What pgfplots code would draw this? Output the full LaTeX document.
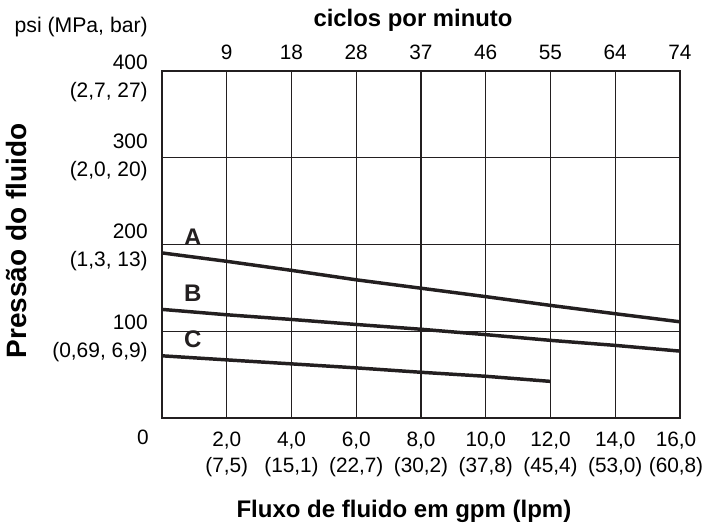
\documentclass[border=0pt]{standalone}
\usepackage{fontspec}
\setmainfont{Liberation Sans}
\usepackage{pgfplots}
\pgfplotsset{compat=1.18}
\definecolor{ink}{HTML}{231F20}
\newcommand\ylab[3]{\raisebox{#1}{\begin{tabular}[c]{@{}r@{}}#2\\#3\end{tabular}}}
\newcommand\lastxlab{16,0\\(60,8)}
\begin{document}
\begin{tikzpicture}
\useasboundingbox (0,0) rectangle (528pt,391.5pt);
\begin{axis}[
  at={(121.5pt,78pt)}, anchor=south west,
  scale only axis, width=388.5pt, height=260.25pt,
  xmin=0, xmax=16, ymin=0, ymax=400,
  clip=false,
  xtick={2,4,...,14},
  xticklabels={{2,0\\(7,5)},{4,0\\(15,1)},{6,0\\(22,7)},{8,0\\(30,2)},{10,0\\(37,8)},{12,0\\(45,4)},{14,0\\(53,0)}},
  extra x ticks={16},
  extra x tick labels={\lastxlab},
  extra x tick style={xticklabel style={xshift=-3pt}},
  ytick={100,200,300,400},
  yticklabels={{\ylab{-5pt}{100}{(0,69, 6,9)}},{\ylab{-1.6pt}{200}{(1,3, 13)}},{\ylab{1.3pt}{300}{(2,0, 20)}},{\ylab{-5.1pt}{400}{(2,7, 27)}}},
  grid=major,
  major grid style={draw=ink, line width=1pt},
  major tick length=0pt,
  axis line style={draw=ink, line width=1pt},
  /pgf/number format/assume math mode=true,
  xticklabel style={font=\fontsize{15.6}{19.5}\selectfont, align=center, anchor=north, inner sep=0pt, yshift=-10.5pt},
  yticklabel style={font=\fontsize{15.7}{21}\selectfont, anchor=base east, inner sep=0pt, xshift=-10.5pt, yshift=-3.9pt},
]
\addplot[draw=ink, line width=2.6pt] coordinates {(0,190.3)(2,180.6)(4,170.2)(6,159.3)(8,149.6)(10,139.9)(12,129.8)(14,120.2)(16,110.9)};
\addplot[draw=ink, line width=2.6pt] coordinates {(0,125.2)(2,119)(4,113.6)(6,107.8)(8,102.3)(10,96.1)(12,89.5)(14,83.7)(16,77.1)};
\addplot[draw=ink, line width=2.6pt] coordinates {(0,71.7)(2,67)(4,62.4)(6,57.8)(8,52.7)(10,48.1)(12,42.2)};
\node[font=\bfseries\fontsize{18}{20}\selectfont, text=ink] at (axis cs:0.95,208) {A};
\node[font=\bfseries\fontsize{18}{20}\selectfont, text=ink] at (axis cs:0.95,144) {B};
\node[font=\bfseries\fontsize{18}{20}\selectfont, text=ink] at (axis cs:0.95,90.4) {C};
\node[anchor=base east, inner sep=0pt, font=\fontsize{15.9}{18}\selectfont] at (rel axis cs:-0.027,1.1107) {psi (MPa, bar)};
\node[anchor=base, inner sep=0pt, font=\bfseries\fontsize{17.9}{20}\selectfont] at (rel axis cs:0.4846,1.128) {ciclos por minuto};
\node[anchor=base, inner sep=0pt, font=\bfseries\fontsize{18}{20}\selectfont] at (rel axis cs:0.467,-0.287) {Fluxo de fluido em gpm (lpm)};
\node[anchor=base, inner sep=0pt, rotate=90, font=\bfseries\fontsize{21}{24}\selectfont] at (rel axis cs:-0.2625,0.51) {Pressão do fluido};
\node[inner sep=0pt, font=\fontsize{15.6}{18}\selectfont] at (rel axis cs:-0.037,-0.0565) {0};
\end{axis}
\begin{axis}[
  at={(121.5pt,78pt)}, anchor=south west,
  scale only axis, width=388.5pt, height=260.25pt,
  xmin=0, xmax=16, ymin=0, ymax=400,
  axis x line*=top, axis y line=none,
  xtick={2,4,...,16},
  xticklabels={9,18,28,37,46,55,64,74},
  ytick=\empty,
  major tick length=0pt,
  axis line style={draw=ink, line width=1pt},
  /pgf/number format/assume math mode=true,
  xticklabel style={font=\fontsize{15.6}{18}\selectfont, anchor=south, inner sep=0pt, yshift=8.5pt},
]
\end{axis}
\end{tikzpicture}
\end{document}
